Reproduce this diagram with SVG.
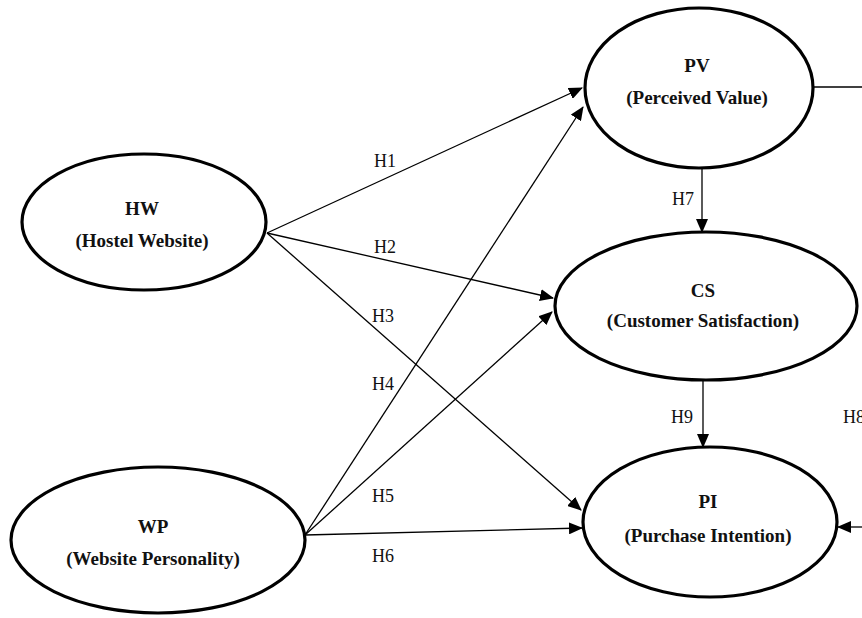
<svg xmlns="http://www.w3.org/2000/svg" width="862" height="618" viewBox="0 0 862 618">
<defs>
<marker id="ah" markerUnits="userSpaceOnUse" markerWidth="14" markerHeight="12" viewBox="0 0 14 12" refX="13" refY="6" orient="auto">
<path d="M0,0 L14,6 L0,12 Z" fill="#000"/>
</marker>
<style>
.node ellipse{fill:#fff;stroke:#000;stroke-width:3.2}
.t{font-family:"Liberation Serif","Times New Roman",serif;font-size:19px;font-weight:bold;text-anchor:middle;fill:#111}
.lb{font-family:"Liberation Serif","Times New Roman",serif;font-size:18px;text-anchor:middle;fill:#111}
.c line{stroke:#000;stroke-width:1.3}
.c .a{marker-end:url(#ah)}
</style>
</defs>
<rect width="862" height="618" fill="#fff"/>
<g id="connectors" class="c">
<line class="a" x1="267" y1="233" x2="582" y2="88"/>
<line class="a" x1="267" y1="233" x2="553" y2="298"/>
<line class="a" x1="267" y1="233" x2="581" y2="510"/>
<line class="a" x1="305" y1="535" x2="583" y2="107"/>
<line class="a" x1="305" y1="535" x2="552" y2="312"/>
<line class="a" x1="305" y1="535" x2="582" y2="528"/>
<line class="a" x1="702" y1="169" x2="702" y2="232"/>
<line class="a" x1="703" y1="380" x2="703" y2="447"/>
<line x1="813" y1="87" x2="862" y2="87"/>
<line class="a" x1="862" y1="527" x2="838" y2="527"/>
</g>
<g id="labels">
<text class="lb" x="385" y="167">H1</text>
<text class="lb" x="385" y="253">H2</text>
<text class="lb" x="383" y="322">H3</text>
<text class="lb" x="383" y="390">H4</text>
<text class="lb" x="383" y="502">H5</text>
<text class="lb" x="383" y="562">H6</text>
<text class="lb" x="683" y="205">H7</text>
<text class="lb" x="682" y="423">H9</text>
<text class="lb" x="843" y="423" style="text-anchor:start">H8</text>
</g>
<g id="PV" class="node">
<ellipse cx="699" cy="88" rx="114" ry="80"/>
<text class="t" x="697" y="72">PV</text>
<text class="t" x="697" y="104">(Perceived Value)</text>
</g>
<g id="HW" class="node">
<ellipse cx="144" cy="222" rx="122" ry="68"/>
<text class="t" x="142" y="215">HW</text>
<text class="t" x="142" y="247">(Hostel Website)</text>
</g>
<g id="CS" class="node">
<ellipse cx="706" cy="306" rx="151" ry="74"/>
<text class="t" x="703" y="297">CS</text>
<text class="t" x="703" y="327">(Customer Satisfaction)</text>
</g>
<g id="PI" class="node">
<ellipse cx="710" cy="522" rx="127" ry="75"/>
<text class="t" x="708" y="508">PI</text>
<text class="t" x="708" y="542">(Purchase Intention)</text>
</g>
<g id="WP" class="node">
<ellipse cx="158" cy="540" rx="147" ry="73"/>
<text class="t" x="153" y="533">WP</text>
<text class="t" x="153" y="565">(Website Personality)</text>
</g>
</svg>
